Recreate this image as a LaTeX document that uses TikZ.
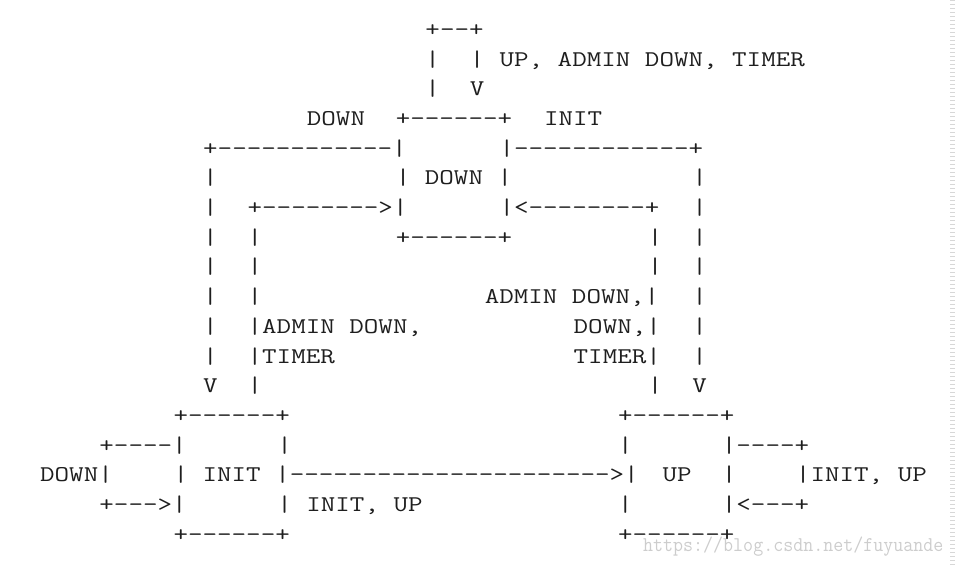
\documentclass[tikz,border=0pt]{standalone}
\usepackage{fontspec}
\usepackage{xcolor}
\usepackage{tikz}

\definecolor{inkline}{RGB}{30,30,30}
\definecolor{markgray}{RGB}{205,205,205}
\definecolor{edgegray}{RGB}{215,215,215}

\newcommand{\widemono}[1]{\scalebox{1.2546}[1]{#1}}

\tikzset{
  ascii/.style={anchor=base west, inner sep=0pt, text=inkline,
    font=\ttfamily\fontsize{22.5}{27}\selectfont},
  watermark/.style={anchor=base west, inner sep=0pt, text=markgray,
    font=\ttfamily\fontsize{21}{25}\selectfont}
}

\begin{document}
\begin{tikzpicture}[x=14.82pt, y=-29.7pt]
    \useasboundingbox (0pt,0pt) rectangle (955pt,-566pt);
    \begin{scope}[shift={(-4.5pt,-6.6pt)}]
    \foreach \r/\c/\t [count=\i] in {
        1/29/{+--+},
        2/29/{|}, 2/32/{|}, 2/34/{UP, ADMIN DOWN, TIMER},
        3/29/{|}, 3/32/{V},
        4/21/{DOWN}, 4/27/{+------+}, 4/37/{INIT},
        5/14/{+------------|}, 5/34/{|------------+},
        6/14/{|}, 6/27/{| DOWN |}, 6/47/{|},
        7/14/{|}, 7/17/{+-------->|}, 7/34/{|<--------+}, 7/47/{|},
        8/14/{|}, 8/17/{|}, 8/27/{+------+}, 8/44/{|}, 8/47/{|},
        9/14/{|}, 9/17/{|}, 9/44/{|}, 9/47/{|},
        10/14/{|}, 10/17/{|}, 10/33/{ADMIN DOWN,|}, 10/47/{|},
        11/14/{|}, 11/17/{|ADMIN DOWN,}, 11/39/{DOWN,|}, 11/47/{|},
        12/14/{|}, 12/17/{|TIMER}, 12/39/{TIMER|}, 12/47/{|},
        13/14/{V}, 13/17/{|}, 13/44/{|}, 13/47/{V},
        14/12/{+------+}, 14/42/{+------+},
        15/7/{+----|}, 15/19/{|}, 15/42/{|}, 15/49/{|----+},
        16/3/{DOWN|}, 16/12/{| INIT |---------------------->|}, 16/45/{UP}, 16/49/{|}, 16/54/{|INIT, UP},
        17/7/{+--->|}, 17/19/{| INIT, UP}, 17/42/{|}, 17/49/{|<---+},
        18/12/{+------+}, 18/42/{+------+}}
        \node[ascii] (seg\i) at (\c,\r) {\widemono{\t}};
    \end{scope}
    \node[watermark] (mark) at (643pt,-551pt) {\scalebox{0.925}[1]{https://blog.csdn.net/fuyuande}};
    \coordinate (edgetop) at (952.5pt,0pt);
    \coordinate (edgebot) at (952.5pt,-566pt);
    \draw[edgegray, line width=5pt, dash pattern=on 1pt off 3pt] (edgetop) -- (edgebot);
\end{tikzpicture}
\end{document}
